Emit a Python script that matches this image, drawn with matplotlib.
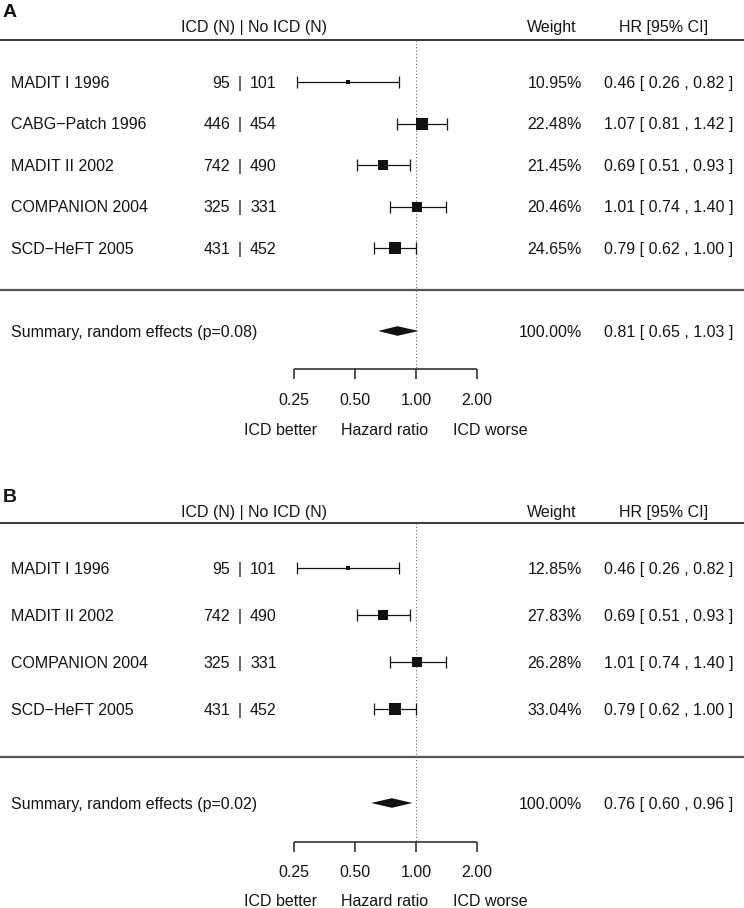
import matplotlib
matplotlib.use('Agg')
import matplotlib.pyplot as plt
from matplotlib.transforms import blended_transform_factory
import numpy as np

plt.rcParams['font.family'] = ['Liberation Sans', 'DejaVu Sans']

# panel A data
studies_a = ["MADIT I 1996", "CABG\u2212Patch 1996", "MADIT II 2002", "COMPANION 2004", "SCD\u2212HeFT 2005"]
icd_a = [95, 446, 742, 325, 431]
noicd_a = [101, 454, 490, 331, 452]
weight_a = [10.95, 22.48, 21.45, 20.46, 24.65]
hr_a = [0.46, 1.07, 0.69, 1.01, 0.79]
lo_a = [0.26, 0.81, 0.51, 0.74, 0.62]
hi_a = [0.82, 1.42, 0.93, 1.40, 1.00]
summary_a = [0.81, 0.65, 1.03]
p_a = 0.08

# panel B data
studies_b = ["MADIT I 1996", "MADIT II 2002", "COMPANION 2004", "SCD\u2212HeFT 2005"]
icd_b = [95, 742, 325, 431]
noicd_b = [101, 490, 331, 452]
weight_b = [12.85, 27.83, 26.28, 33.04]
hr_b = [0.46, 0.69, 1.01, 0.79]
lo_b = [0.26, 0.51, 0.74, 0.62]
hi_b = [0.82, 0.93, 1.40, 1.00]
summary_b = [0.76, 0.60, 0.96]
p_b = 0.02

ticks = [0.25, 0.5, 1.0, 2.0]
tick_labels = ["0.25", "0.50", "1.00", "2.00"]

W, H = 744, 908
fig = plt.figure(figsize=(W / 100, H / 100), dpi=100)
ax = fig.add_axes([0, 0, 1, 1])
ax.set_xscale('log', base=2)
# 0.25 sits at x=294 px, 61 px per doubling
ax.set_xlim(2 ** (-2 - 294 / 61), 2 ** (-2 + (W - 294) / 61))
ax.set_ylim(H, 0)
ax.axis('off')
tr = blended_transform_factory(ax.transAxes, ax.transData)
FS = 11.5
CAP = 5.7  # half cap height in px, for baseline placement
INK = '#141414'


def txt(px, y, s, ha='left', **kw):
    ax.text(px / W, y + CAP, s, transform=tr, ha=ha, va='baseline', fontsize=FS, color=INK, **kw)


def panel(letter, studies, icd, noicd, weight, hr, lo, hi, summ, p, lay):
    ax.text(3 / W, lay['label'] + 7, letter, transform=tr, ha='left', va='baseline',
            fontsize=14, fontweight='bold', color=INK)
    txt(254, lay['header'], "ICD (N) | No ICD (N)", ha='center')
    txt(552, lay['header'], "Weight", ha='center')
    txt(664, lay['header'], "HR [95% CI]", ha='center')
    ax.axhline(lay['rule'], color='black', lw=1.1)
    ax.axhline(lay['sep'], color='#555555', lw=1.6)
    ax.vlines(1.0, lay['rule'], lay['axis'], colors='#666666', lw=0.8, linestyles=(0, (1, 2)))

    ys = lay['first'] + lay['step'] * np.arange(len(studies))
    w = np.array(weight)
    sizes = 3.5 + 9 * (w - w.min()) / (w.max() - w.min())
    hr = np.array(hr); lo = np.array(lo); hi = np.array(hi)
    ax.errorbar(hr, ys, xerr=[hr - lo, hi - hr], fmt='none', ecolor=INK,
                elinewidth=0.9, capsize=4.5, capthick=0.9)
    for x, y, s in zip(hr, ys, sizes):
        ax.plot(x, y, marker='s', markersize=s * 0.72, color='#111111', mec='#111111', mew=0)
    for i, y in enumerate(ys):
        txt(11, y, studies[i])
        txt(230, y, str(icd[i]), ha='right')
        txt(240, y, "|", ha='center')
        txt(250, y, str(noicd[i]))
        txt(582, y, f"{weight[i]:.2f}%", ha='right')
        txt(733, y, f"{hr[i]:.2f} [ {lo[i]:.2f} , {hi[i]:.2f} ]", ha='right')

    # summary diamond
    est, slo, shi = summ
    ys_ = lay['summ']
    ax.fill([slo, est, shi, est], [ys_, ys_ - 4.8, ys_, ys_ + 4.8], color='#111111', lw=0)
    txt(11, ys_, f"Summary, random effects (p={p:.2f})")
    txt(582, ys_, f"{100:.2f}%", ha='right')
    txt(733, ys_, f"{est:.2f} [ {slo:.2f} , {shi:.2f} ]", ha='right')

    # x axis
    ax.hlines(lay['axis'], ticks[0], ticks[-1], colors='#333333', lw=1.2)
    ax.vlines(ticks, lay['axis'], lay['axis'] + 10, colors='#333333', lw=1.2)
    for t, lab in zip(ticks, tick_labels):
        ax.text(t, lay['ticklab'] + CAP, lab, ha='center', va='baseline', fontsize=FS, color=INK)
    txt(280, lay['axlab'], "ICD better", ha='center')
    txt(385, lay['axlab'], "Hazard ratio", ha='center')
    txt(490, lay['axlab'], "ICD worse", ha='center')


lay_a = dict(label=10, header=26, rule=40, first=82, step=41.5, sep=290, summ=331,
             axis=369, ticklab=399, axlab=429)
lay_b = dict(label=495, header=511, rule=523, first=568, step=47, sep=757, summ=803,
             axis=842, ticklab=871, axlab=900)

panel("A", studies_a, icd_a, noicd_a, weight_a, hr_a, lo_a, hi_a, summary_a, p_a, lay_a)
panel("B", studies_b, icd_b, noicd_b, weight_b, hr_b, lo_b, hi_b, summary_b, p_b, lay_b)

fig.savefig('out.png', dpi=100, facecolor='white')
